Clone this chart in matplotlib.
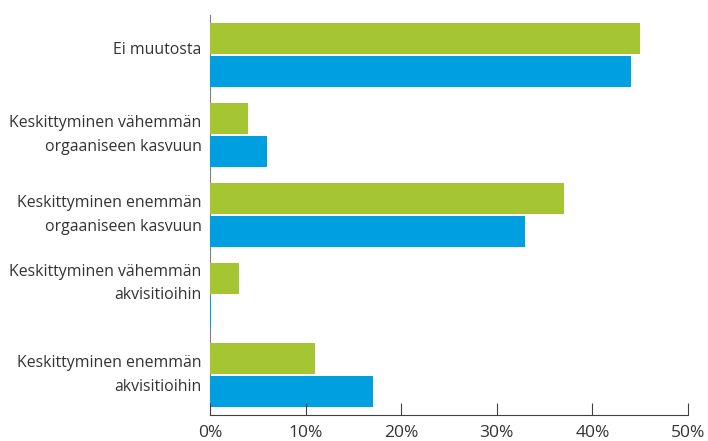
import numpy as np
import matplotlib.pyplot as plt
from matplotlib.ticker import FuncFormatter

plt.rcParams['font.family'] = ['Open Sans', 'DejaVu Sans']

categories = ['Ei muutosta',
              'Keskittyminen vähemmän\norgaaniseen kasvuun',
              'Keskittyminen enemmän\norgaaniseen kasvuun',
              'Keskittyminen vähemmän\nakvisitioihin',
              'Keskittyminen enemmän\nakvisitioihin']
green_vals = [45, 4, 37, 3, 11]
blue_vals = [44, 6, 33, 0.15, 17]
# small vertical nudges of the labels, as in the original
label_shift = [-0.06, 0, 0, -0.14, 0]

fig = plt.figure(figsize=(7.08, 4.41), dpi=100)
ax = fig.add_axes([210/708, 1-415/441, 478/708, 400/441])

y = np.arange(len(categories))
h = 0.3875
ax.barh(y - h/2 - 0.0125, green_vals, height=h, color='#a6c532')
ax.barh(y + h/2 + 0.0125, blue_vals, height=h, color='#009fdf')

ax.set_ylim(len(categories) - 0.5, -0.5)
ax.set_xlim(0, 50)
ax.set_xticks([0, 10, 20, 30, 40, 50])
ax.xaxis.set_major_formatter(FuncFormatter(lambda v, p: '%d%%' % v))
ax.set_yticks([])
for yi, lab, sh in zip(y, categories, label_shift):
    ax.text(-0.9, yi + sh, lab, ha='right', va='center', multialignment='right',
            linespacing=1.6, fontsize=11.4, color='#333333')

for s in ['top', 'right']:
    ax.spines[s].set_visible(False)
ax.spines['left'].set_color('#808080')
ax.spines['left'].set_zorder(0.5)
ax.spines['bottom'].set_color('#404040')
ax.tick_params(axis='x', direction='in', length=9, color='#404040',
               labelsize=12.5, colors='#333333', pad=7)

fig.savefig('out.png', dpi=100)
